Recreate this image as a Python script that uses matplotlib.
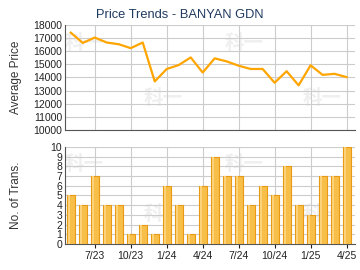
import matplotlib
matplotlib.use("Agg")
import matplotlib.pyplot as plt
import numpy as np

months = ["5/23","6/23","7/23","8/23","9/23","10/23","11/23","12/23",
          "1/24","2/24","3/24","4/24","5/24","6/24","7/24","8/24","9/24",
          "10/24","11/24","12/24","1/25","2/25","3/25","4/25"]
prices = [17420,16640,17050,16670,16540,16240,16670,13700,14650,14950,15530,14380,
          15460,15230,14900,14650,14650,13600,14480,13400,14930,14200,14280,14030]
trans = [5,4,7,4,4,1,2,1,6,4,1,6,9,7,7,4,6,5,8,4,3,7,7,10]
tick_labels = ["7/23","10/23","1/24","4/24","7/24","10/24","1/25","4/25"]

plt.rcParams['font.family'] = ['Liberation Sans', 'DejaVu Sans']
fig = plt.figure(figsize=(3.6, 2.7), dpi=100)
x = np.arange(len(months))
tick_pos = [months.index(t) for t in tick_labels]

ax1 = fig.add_axes([0.18, 0.519, 0.806, 0.388])
ax2 = fig.add_axes([0.18, 0.096, 0.806, 0.36])

grid_c = '#CCCCCC'
spine_c = '#555555'
for ax in (ax1, ax2):
    ax.set_xlim(-0.5, 23.7)
    ax.spines['top'].set_visible(False)
    ax.spines['right'].set_visible(False)
    ax.spines['left'].set_color(spine_c)
    ax.spines['bottom'].set_color(spine_c)
    ax.set_xticks(tick_pos)
    ax.grid(True, color=grid_c, linewidth=0.8)
    ax.set_axisbelow(True)
    ax.tick_params(axis='y', length=0, labelsize=7.5, colors='#222222', pad=2)

# watermarks
for ax in (ax1, ax2):
    for (wx, wy) in [(0.0, 0.82), (0.55, 0.82), (0.27, 0.3), (0.82, 0.3)]:
        ax.text(wx, wy, "科一", transform=ax.transAxes, fontsize=14, color='#EFEFEF',
                family=['Noto Sans CJK SC'], fontweight='bold', ha='left', va='center', zorder=0)

ax1.plot(x, prices, color='#FFA500', linewidth=1.6, zorder=3)
ax1.set_ylim(10000, 18000)
ax1.set_yticks(range(10000, 18001, 1000))
ax1.tick_params(axis='x', length=0, labelbottom=False)
fig.text(0.045, 0.713, "Average Price", rotation=90, fontsize=8.5, color='#333333',
         ha='center', va='center')
fig.text(0.5, 0.945, "Price Trends - BANYAN GDN", fontsize=9.3, color='#1F3A60',
         ha='center', va='center')

ax2.bar(x, trans, width=0.66, color='#F8BE4A', edgecolor='#E89A12', linewidth=0.8, zorder=3)
ax2.bar(x - 0.12, trans, width=0.18, color='#FCD27A', linewidth=0, zorder=4)
ax2.set_ylim(0, 10)
ax2.set_yticks(range(0, 11))
ax2.set_xticklabels(tick_labels)
ax2.tick_params(axis='x', length=3, direction='out', labelsize=7.5, colors='#222222', pad=2)
fig.text(0.045, 0.276, "No. of Trans.", rotation=90, fontsize=8.5, color='#333333',
         ha='center', va='center')

fig.savefig("out.png", dpi=100)
